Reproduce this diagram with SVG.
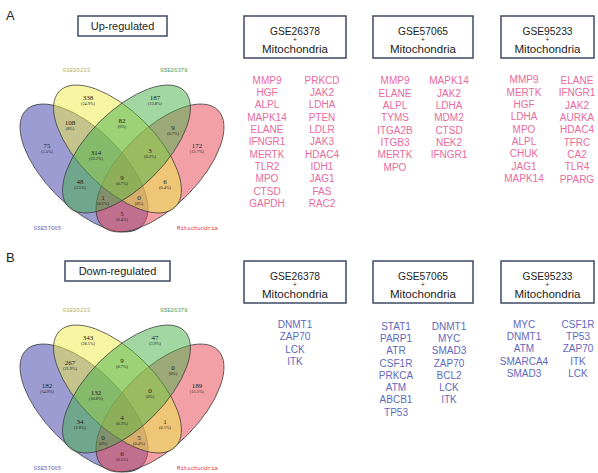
<svg xmlns="http://www.w3.org/2000/svg" width="598" height="473" viewBox="0 0 598 473">
<style>
.bg{fill:#ffffff}
.panel{font-family:"Liberation Sans",Arial,sans-serif;font-size:13px;fill:#222}
.title{font-family:"Liberation Sans",Arial,sans-serif;font-size:11px;fill:#222;text-anchor:middle}
.tbox{fill:#ffffff;stroke:#3d4b66;stroke-width:1.5}
.hdr{font-family:"Liberation Sans",Arial,sans-serif;font-size:10.5px;fill:#222;text-anchor:middle}
.plus{font-family:"Liberation Sans",Arial,sans-serif;font-size:6.5px;fill:#222;text-anchor:middle}
.up{font-family:"Liberation Sans",Arial,sans-serif;font-size:10px;fill:#ea6a9c;text-anchor:middle}
.dn{font-family:"Liberation Sans",Arial,sans-serif;font-size:10px;fill:#5f68bd;text-anchor:middle}
.ell{stroke:#333;stroke-width:0.7;fill-opacity:0.5}
.eA{fill:#3a3aa8}
.eB{fill:#ebeb45}
.eC{fill:#45b04a}
.eD{fill:#e5414b}
.n{font-family:"Liberation Serif","DejaVu Serif",serif;font-size:7px;fill:#222;text-anchor:middle}
.p{font-family:"Liberation Serif","DejaVu Serif",serif;font-size:4.3px;fill:#222;text-anchor:middle}
.set{font-family:"Liberation Mono","DejaVu Sans Mono",monospace;font-size:5.7px;text-anchor:middle}
</style>
<defs>
<g id="venn">
<ellipse class="ell eA" cx="84" cy="168" rx="81.9" ry="38.5" transform="rotate(45 84 168)"/>
<ellipse class="ell eD" cx="160" cy="168" rx="81.9" ry="38.5" transform="rotate(-45 160 168)"/>
<ellipse class="ell eB" cx="117.5" cy="149" rx="82" ry="38.2" transform="rotate(45 117.5 149)"/>
<ellipse class="ell eC" cx="126.5" cy="149" rx="82" ry="38.2" transform="rotate(-45 126.5 149)"/>
<text class="set" x="76.5" y="72" fill="#b5b365">GSE95233</text>
<text class="set" x="174" y="72" fill="#4f9a55">GSE26378</text>
<text class="set" x="47.5" y="230" fill="#5f68bd">GSE57065</text>
<text class="set" x="197.5" y="230" fill="#e8323f">Mitochondria</text>
</g>
</defs>
<rect class="bg" x="0" y="0" width="598" height="473"/>

<!-- Panel A -->
<g id="panelA">
<text class="panel" x="6" y="20">A</text>
<g id="boxUp">
<rect class="tbox" x="78" y="16" width="89" height="20"/>
<text class="title" x="122.5" y="30">Up-regulated</text>
</g>
<g id="vennUp">
<use href="#venn"/>
<text class="n" x="88" y="100">338</text><text class="p" x="88" y="105">(24.9%)</text>
<text class="n" x="155" y="100">187</text><text class="p" x="155" y="105">(13.8%)</text>
<text class="n" x="70" y="125">108</text><text class="p" x="70" y="130">(8%)</text>
<text class="n" x="122" y="123">82</text><text class="p" x="122" y="128">(6%)</text>
<text class="n" x="173" y="130">9</text><text class="p" x="173" y="135">(0.7%)</text>
<text class="n" x="47" y="148">75</text><text class="p" x="47" y="153">(5.5%)</text>
<text class="n" x="96" y="155">314</text><text class="p" x="96" y="160">(23.1%)</text>
<text class="n" x="150" y="153">3</text><text class="p" x="150" y="158">(0.2%)</text>
<text class="n" x="197" y="148">172</text><text class="p" x="197" y="153">(12.7%)</text>
<text class="n" x="80" y="184">48</text><text class="p" x="80" y="189">(3.5%)</text>
<text class="n" x="122" y="180">9</text><text class="p" x="122" y="185">(0.7%)</text>
<text class="n" x="165" y="184">6</text><text class="p" x="165" y="189">(0.4%)</text>
<text class="n" x="103" y="200">1</text><text class="p" x="103" y="205">(0.1%)</text>
<text class="n" x="139" y="200">0</text><text class="p" x="139" y="205">(0%)</text>
<text class="n" x="122" y="216">5</text><text class="p" x="122" y="221">(0.4%)</text>
</g>
<g id="hdrUp1">
<rect class="tbox" x="244" y="16" width="102" height="42"/>
<text class="hdr" x="295" y="34.5" textLength="50" lengthAdjust="spacingAndGlyphs">GSE26378</text>
<text class="plus" x="295" y="41.5">+</text>
<text class="hdr" x="295" y="52.5" textLength="66" lengthAdjust="spacingAndGlyphs">Mitochondria</text>
</g>
<g id="hdrUp2">
<rect class="tbox" x="373" y="16" width="100" height="42"/>
<text class="hdr" x="423" y="34.5" textLength="50" lengthAdjust="spacingAndGlyphs">GSE57065</text>
<text class="plus" x="423" y="41.5">+</text>
<text class="hdr" x="423" y="52.5" textLength="66" lengthAdjust="spacingAndGlyphs">Mitochondria</text>
</g>
<g id="hdrUp3">
<rect class="tbox" x="501" y="16" width="93" height="42"/>
<text class="hdr" x="547.5" y="34.5" textLength="50" lengthAdjust="spacingAndGlyphs">GSE95233</text>
<text class="plus" x="547.5" y="41.5">+</text>
<text class="hdr" x="547.5" y="52.5" textLength="66" lengthAdjust="spacingAndGlyphs">Mitochondria</text>
</g>
<g id="listUp1">
<text class="up" x="267" y="83.6">MMP9</text>
<text class="up" x="267" y="96">HGF</text>
<text class="up" x="267" y="108.3">ALPL</text>
<text class="up" x="267" y="120.6">MAPK14</text>
<text class="up" x="267" y="133">ELANE</text>
<text class="up" x="267" y="145.3">IFNGR1</text>
<text class="up" x="267" y="157.7">MERTK</text>
<text class="up" x="267" y="170">TLR2</text>
<text class="up" x="267" y="182.4">MPO</text>
<text class="up" x="267" y="194.7">CTSD</text>
<text class="up" x="267" y="207.1">GAPDH</text>
<text class="up" x="322" y="83.6">PRKCD</text>
<text class="up" x="322" y="96">JAK2</text>
<text class="up" x="322" y="108.3">LDHA</text>
<text class="up" x="322" y="120.6">PTEN</text>
<text class="up" x="322" y="133">LDLR</text>
<text class="up" x="322" y="145.3">JAK3</text>
<text class="up" x="322" y="157.7">HDAC4</text>
<text class="up" x="322" y="170">IDH1</text>
<text class="up" x="322" y="182.4">JAG1</text>
<text class="up" x="322" y="194.7">FAS</text>
<text class="up" x="322" y="207.1">RAC2</text>
</g>
<g id="listUp2">
<text class="up" x="395" y="84.2">MMP9</text>
<text class="up" x="395" y="96.6">ELANE</text>
<text class="up" x="395" y="108.9">ALPL</text>
<text class="up" x="395" y="121.2">TYMS</text>
<text class="up" x="395" y="133.6">ITGA2B</text>
<text class="up" x="395" y="145.9">ITGB3</text>
<text class="up" x="395" y="158.3">MERTK</text>
<text class="up" x="395" y="170.6">MPO</text>
<text class="up" x="449" y="84.2">MAPK14</text>
<text class="up" x="449" y="96.6">JAK2</text>
<text class="up" x="449" y="108.9">LDHA</text>
<text class="up" x="449" y="121.2">MDM2</text>
<text class="up" x="449" y="133.6">CTSD</text>
<text class="up" x="449" y="145.9">NEK2</text>
<text class="up" x="449" y="158.3">IFNGR1</text>
</g>
<g id="listUp3">
<text class="up" x="524" y="83.3">MMP9</text>
<text class="up" x="524" y="95.6">MERTK</text>
<text class="up" x="524" y="108">HGF</text>
<text class="up" x="524" y="120.3">LDHA</text>
<text class="up" x="524" y="132.7">MPO</text>
<text class="up" x="524" y="145">ALPL</text>
<text class="up" x="524" y="157.4">CHUK</text>
<text class="up" x="524" y="169.7">JAG1</text>
<text class="up" x="524" y="182.1">MAPK14</text>
<text class="up" x="577" y="83.8">ELANE</text>
<text class="up" x="577" y="96.1">IFNGR1</text>
<text class="up" x="577" y="108.5">JAK2</text>
<text class="up" x="577" y="120.8">AURKA</text>
<text class="up" x="577" y="133.2">HDAC4</text>
<text class="up" x="577" y="145.5">TFRC</text>
<text class="up" x="577" y="157.9">CA2</text>
<text class="up" x="577" y="170.2">TLR4</text>
<text class="up" x="577" y="182.6">PPARG</text>
</g>
</g>

<!-- Panel B -->
<g id="panelB">
<text class="panel" x="6" y="262">B</text>
<g id="boxDown">
<rect class="tbox" x="65" y="261" width="105" height="20"/>
<text class="title" x="117.5" y="275">Down-regulated</text>
</g>
<g id="vennDown">
<use href="#venn" transform="translate(0,240)"/>
<text class="n" x="88" y="340">343</text><text class="p" x="88" y="345">(28.1%)</text>
<text class="n" x="155" y="340">47</text><text class="p" x="155" y="345">(3.9%)</text>
<text class="n" x="70" y="365">267</text><text class="p" x="70" y="370">(21.9%)</text>
<text class="n" x="122" y="363">9</text><text class="p" x="122" y="368">(0.7%)</text>
<text class="n" x="173" y="370">0</text><text class="p" x="173" y="375">(0%)</text>
<text class="n" x="47" y="388">182</text><text class="p" x="47" y="393">(14.9%)</text>
<text class="n" x="96" y="395">132</text><text class="p" x="96" y="400">(10.8%)</text>
<text class="n" x="150" y="393">0</text><text class="p" x="150" y="398">(0%)</text>
<text class="n" x="197" y="388">189</text><text class="p" x="197" y="393">(15.5%)</text>
<text class="n" x="80" y="424">34</text><text class="p" x="80" y="429">(2.8%)</text>
<text class="n" x="122" y="420">4</text><text class="p" x="122" y="425">(0.3%)</text>
<text class="n" x="165" y="424">1</text><text class="p" x="165" y="429">(0.1%)</text>
<text class="n" x="103" y="440">0</text><text class="p" x="103" y="445">(0%)</text>
<text class="n" x="139" y="440">5</text><text class="p" x="139" y="445">(0.4%)</text>
<text class="n" x="122" y="456">6</text><text class="p" x="122" y="461">(0.5%)</text>
</g>
<g id="hdrDn1">
<rect class="tbox" x="244" y="261" width="102" height="42"/>
<text class="hdr" x="295" y="279.5" textLength="50" lengthAdjust="spacingAndGlyphs">GSE26378</text>
<text class="plus" x="295" y="286.5">+</text>
<text class="hdr" x="295" y="297.5" textLength="66" lengthAdjust="spacingAndGlyphs">Mitochondria</text>
</g>
<g id="hdrDn2">
<rect class="tbox" x="373" y="261" width="100" height="42"/>
<text class="hdr" x="423" y="279.5" textLength="50" lengthAdjust="spacingAndGlyphs">GSE57065</text>
<text class="plus" x="423" y="286.5">+</text>
<text class="hdr" x="423" y="297.5" textLength="66" lengthAdjust="spacingAndGlyphs">Mitochondria</text>
</g>
<g id="hdrDn3">
<rect class="tbox" x="501" y="261" width="93" height="42"/>
<text class="hdr" x="547.5" y="279.5" textLength="50" lengthAdjust="spacingAndGlyphs">GSE95233</text>
<text class="plus" x="547.5" y="286.5">+</text>
<text class="hdr" x="547.5" y="297.5" textLength="66" lengthAdjust="spacingAndGlyphs">Mitochondria</text>
</g>
<g id="listDn1">
<text class="dn" x="295" y="327.6">DNMT1</text>
<text class="dn" x="295" y="340.1">ZAP70</text>
<text class="dn" x="295" y="352.6">LCK</text>
<text class="dn" x="295" y="365.1">ITK</text>
</g>
<g id="listDn2">
<text class="dn" x="396" y="329.6">STAT1</text>
<text class="dn" x="396" y="341.9">PARP1</text>
<text class="dn" x="396" y="354.2">ATR</text>
<text class="dn" x="396" y="366.5">CSF1R</text>
<text class="dn" x="396" y="378.8">PRKCA</text>
<text class="dn" x="396" y="391.1">ATM</text>
<text class="dn" x="396" y="403.4">ABCB1</text>
<text class="dn" x="396" y="415.7">TP53</text>
<text class="dn" x="449" y="329.6">DNMT1</text>
<text class="dn" x="449" y="341.9">MYC</text>
<text class="dn" x="449" y="354.2">SMAD3</text>
<text class="dn" x="449" y="366.5">ZAP70</text>
<text class="dn" x="449" y="378.8">BCL2</text>
<text class="dn" x="449" y="391.1">LCK</text>
<text class="dn" x="449" y="403.4">ITK</text>
</g>
<g id="listDn3">
<text class="dn" x="524" y="327.6">MYC</text>
<text class="dn" x="524" y="340">DNMT1</text>
<text class="dn" x="524" y="352.4">ATM</text>
<text class="dn" x="524" y="364.8">SMARCA4</text>
<text class="dn" x="524" y="377.2">SMAD3</text>
<text class="dn" x="578" y="327.6">CSF1R</text>
<text class="dn" x="578" y="340">TP53</text>
<text class="dn" x="578" y="352.4">ZAP70</text>
<text class="dn" x="578" y="364.8">ITK</text>
<text class="dn" x="578" y="377.2">LCK</text>
</g>
</g>
<g id="connectors"/>
</svg>
